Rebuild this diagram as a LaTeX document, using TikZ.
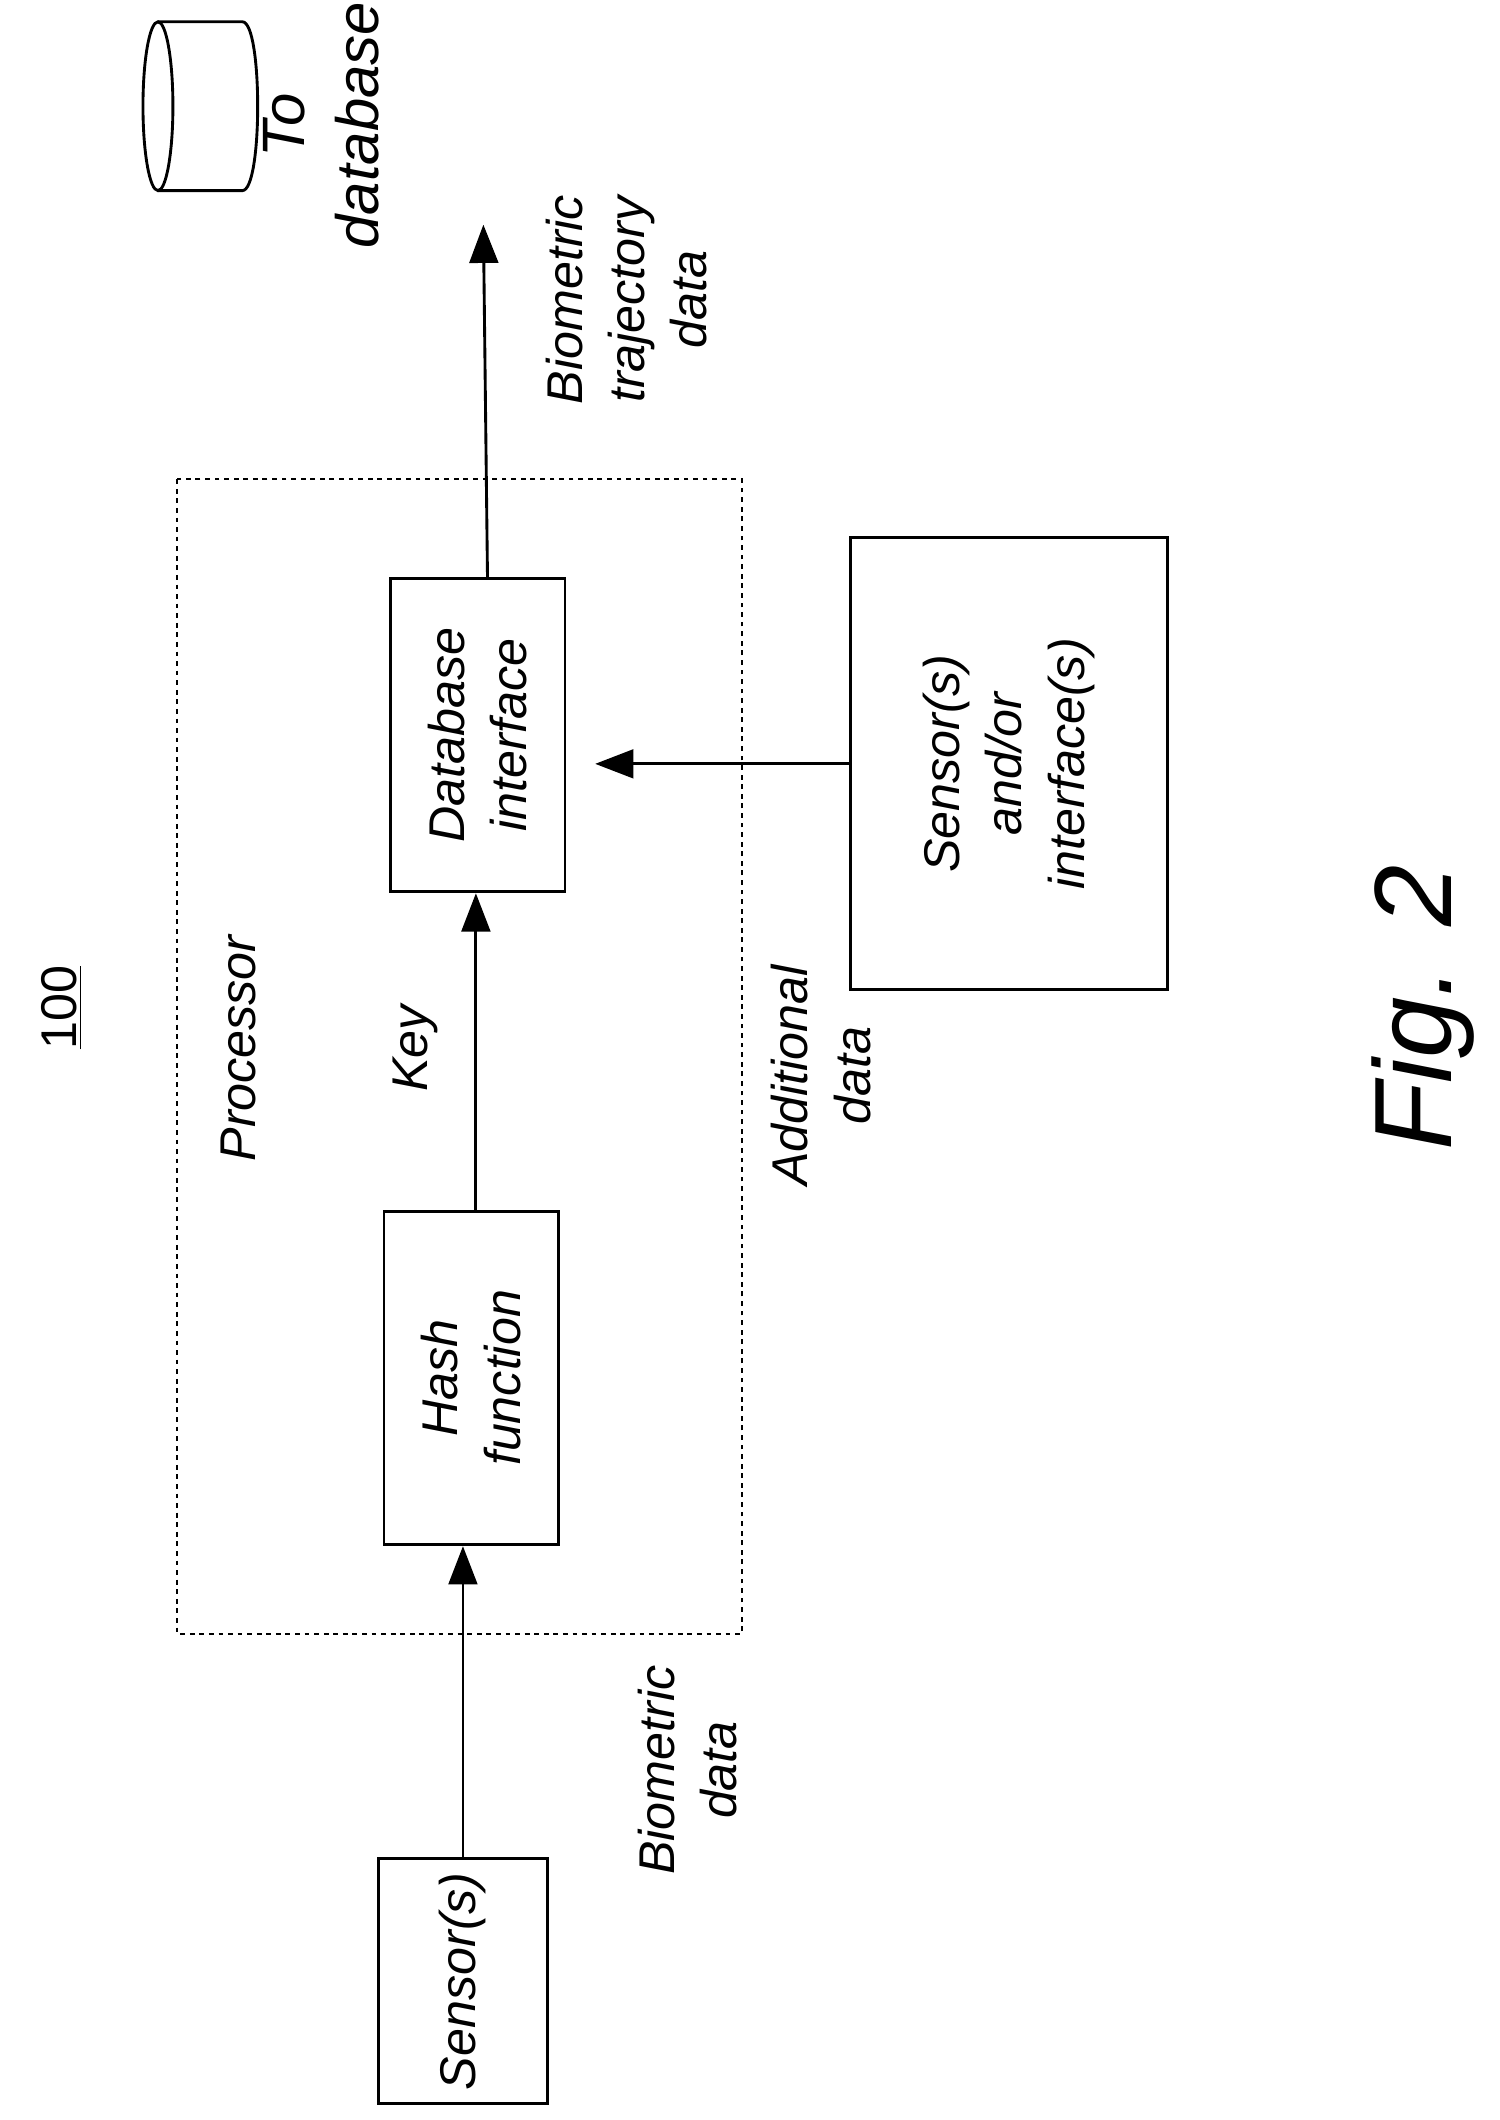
\documentclass[tikz,border=0pt]{standalone}
\usepackage{fontspec}
\setmainfont{Liberation Sans}
\usetikzlibrary{arrows.meta}
\begin{document}
\begin{tikzpicture}[x=0.02cm,y=-0.02cm,
  box/.style={draw,line width=1.2pt,inner sep=0pt},
  lbl/.style={rotate=90,font=\itshape\fontsize{21}{26}\selectfont,align=center},
  arr/.style={line width=1.2pt,-{Triangle[length=16pt,width=12pt]}}]
\useasboundingbox (0,0) rectangle (1101,1557);
% boxes
\node[box,minimum width=2.48cm,minimum height=3.6cm] (s1) at (340,1455) {};
\node[lbl] at (s1) {Sensor(s)};
\draw[dash pattern=on 2pt off 2pt,line width=0.9pt] (130,352) rectangle (545,1200);
\node[box,minimum width=2.56cm,minimum height=4.9cm] (hash) at (346,1012) {};
\node[lbl] at (hash) {Hash\\function};
\node[box,minimum width=2.56cm,minimum height=4.6cm] (dbi) at (351,540) {};
\node[lbl] at (dbi) {Database\\interface};
\node[box,minimum width=4.66cm,minimum height=6.64cm] (s2) at (741,561) {};
\node[lbl] at (s2) {Sensor(s)\\and/or\\interface(s)};
\coordinate (top) at (355,165);
% arrows
\draw[arr] (s1.north) -- (s1.north |- hash.south);
\draw[arr] ([xshift=2pt]hash.north) -- ([xshift=2pt]hash.north |- dbi.south);
\draw[arr] ([xshift=4pt]dbi.north) -- (top);
\draw[arr] (s2.west) -- ([xshift=12pt]dbi.east |- s2.west);
% cylinder
\draw[line width=1.2pt] (116,78) ellipse [x radius=0.22cm, y radius=1.24cm];
\draw[line width=1.2pt] (116,16) -- (178,16) .. controls (193,16) and (193,140) .. (178,140) -- (116,140);
% labels
\node[lbl,font=\fontsize{21}{26}\selectfont] (n100) at (45,740) {\underline{100}};
\node[lbl] at (175,770) {Processor};
\node[lbl] at (305,770) {Key};
\node[lbl] at (505,1300) {Biometric\\data};
\node[lbl] at (603,790) {Additional\\data};
\node[lbl] at (460,220) {Biometric\\trajectory\\data};
\node[lbl,font=\itshape\fontsize{25}{31}\selectfont] at (236,92) {To\\database};
\node[lbl,font=\itshape\fontsize{46}{52}\selectfont] at (1045,740) {Fig. 2};
\end{tikzpicture}
\end{document}
